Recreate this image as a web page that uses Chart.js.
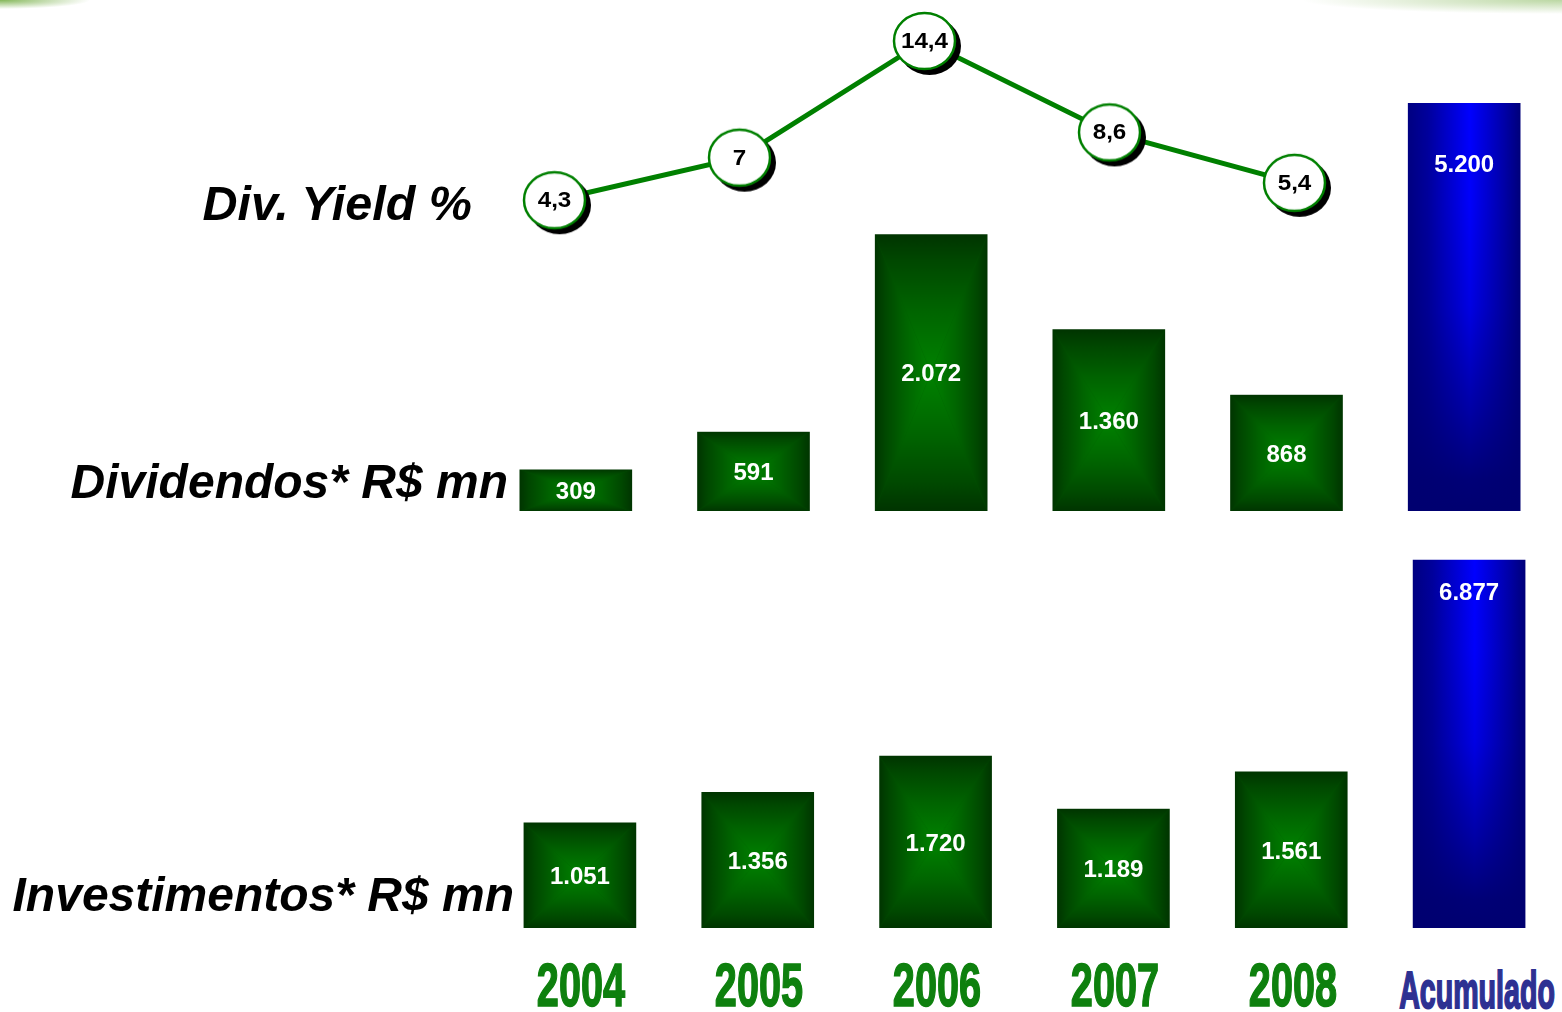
<!DOCTYPE html>
<html><head><meta charset="utf-8">
<script src="https://cdn.jsdelivr.net/npm/chart.js@4.4.0/dist/chart.umd.min.js"></script>
<style>
html,body{margin:0;padding:0;background:#fff;overflow:hidden;}
#stage{position:relative;width:1562px;height:1012px;overflow:hidden;font-family:"Liberation Sans",Arial,sans-serif;}
canvas{position:absolute;}
.row{position:absolute;font-weight:bold;font-style:italic;color:#000;white-space:nowrap;line-height:1;text-align:right;}
.yr{position:absolute;font-weight:bold;white-space:nowrap;line-height:1;text-align:center;width:300px;transform-origin:center;}
#topL{position:absolute;left:0;top:0;width:90px;height:10px;background:radial-gradient(ellipse 90px 9px at 0 0,rgba(110,170,60,0.85),rgba(255,255,255,0) 100%);}
#topR{position:absolute;left:1250px;top:0;width:312px;height:14px;background:radial-gradient(ellipse 260px 14px at 100% 0,rgba(170,205,140,0.8),rgba(255,255,255,0) 100%);}
</style></head><body>
<div id="stage">
  <div id="topL"></div><div id="topR"></div>
  <canvas id="cDiv" width="1066" height="511" style="left:487px;top:0px"></canvas>
  <canvas id="cInv" width="1067" height="408" style="left:491px;top:520px"></canvas>
  <canvas id="cYield" width="925" height="268" style="left:462px;top:0px"></canvas>
</div>
<script>
// ---------- data ----------
const years = ['2004', '2005', '2006', '2007', '2008'];
const totalLabel = 'Acumulado';
const divYield = [4.3, 7, 14.4, 8.6, 5.4];
const dividends = [309, 591, 2072, 1360, 868];
const dividendsTotal = 5200;
const investments = [1051, 1356, 1720, 1189, 1561];
const investmentsTotal = 6877;
const rowTitles = ['Div. Yield %', 'Dividendos* R$ mn', 'Investimentos* R$ mn'];

// ---------- helpers ----------
const FONT = '"Liberation Sans", Arial, sans-serif';
const BAR_W = 112;
const fmtThousands = v => String(v).replace(/\B(?=(\d{3})+(?!\d))/g, '.');
const fmtDecimal = v => String(v).replace('.', ',');
const categories = years.concat([totalLabel]);
const padNull = (arr) => arr.concat([null]);
const totalOnly = (v) => years.map(() => null).concat([v]);

const GREEN_STOPS = [[0, '#003300'], [0.2, '#004800'], [0.55, '#006400'], [1, '#008200']];

function greenCanvas(w, h) {
  const c = document.createElement('canvas');
  c.width = Math.ceil(w); c.height = Math.ceil(h);
  const g = c.getContext('2d');
  const cx = w / 2, cy = h / 2;
  g.fillStyle = '#005500'; g.fillRect(0, 0, c.width, c.height);
  const tri = (p, x0, y0, x1, y1) => {
    const lg = g.createLinearGradient(x0, y0, x1, y1);
    GREEN_STOPS.forEach(([o, col]) => lg.addColorStop(o, col));
    g.fillStyle = lg; g.beginPath();
    g.moveTo(p[0], p[1]); g.lineTo(p[2], p[3]); g.lineTo(cx, cy); g.closePath(); g.fill();
  };
  tri([0, 0, w, 0], cx, 0, cx, cy);
  tri([0, h, w, h], cx, h, cx, cy);
  tri([0, 0, 0, h], 0, cy, cx, cy);
  tri([w, 0, w, h], w, cy, cx, cy);
  return c;
}
function blueCanvas(w, h) {
  const c = document.createElement('canvas');
  c.width = Math.ceil(w); c.height = Math.ceil(h);
  const g = c.getContext('2d');
  const hg = g.createLinearGradient(0, 0, w, 0);
  hg.addColorStop(0, '#000080'); hg.addColorStop(0.18, '#00009c');
  hg.addColorStop(0.55, '#0000ff'); hg.addColorStop(0.85, '#0000a8'); hg.addColorStop(1, '#000078');
  g.fillStyle = hg; g.fillRect(0, 0, c.width, c.height);
  const vg = g.createLinearGradient(0, 0, 0, h);
  vg.addColorStop(0, 'rgba(0,0,112,0)'); vg.addColorStop(0.25, 'rgba(0,0,112,0.03)');
  vg.addColorStop(0.5, 'rgba(0,0,112,0.2)'); vg.addColorStop(0.75, 'rgba(0,0,112,0.62)');
  vg.addColorStop(0.92, 'rgba(0,0,112,0.95)'); vg.addColorStop(1, 'rgba(0,0,112,1)');
  g.fillStyle = vg; g.fillRect(0, 0, c.width, c.height);
  return c;
}
function barFill(kind) {
  const fallback = kind === 'blue' ? '#0000a0' : '#005800';
  return function (c) {
    if (c.type !== 'data' || c.raw == null) return fallback;
    const ch = c.chart, xs = ch.scales.x, ys = ch.scales[c.dataset.yAxisID];
    if (!xs || !ys) return fallback;
    const cx = xs.getPixelForValue(c.dataIndex);
    const top = ys.getPixelForValue(c.raw), base = ys.getPixelForValue(0);
    if (![cx, top, base].every(Number.isFinite)) return fallback;
    const w = BAR_W + 2, h = Math.abs(base - top) + 2;
    if (h < 2) return fallback;
    const off = kind === 'blue' ? blueCanvas(w, h) : greenCanvas(w, h);
    const p = ch.ctx.createPattern(off, 'no-repeat');
    p.setTransform(new DOMMatrix([1, 0, 0, 1, cx - w / 2, Math.min(top, base) - 1]));
    return p;
  };
}

// value labels inside bars
const barLabels = {
  id: 'barLabels',
  afterDatasetsDraw(chart, args, opts) {
    const ctx = chart.ctx;
    ctx.save();
    ctx.fillStyle = '#ffffff';
    ctx.font = 'bold 24px ' + FONT;
    ctx.textAlign = 'center';
    ctx.textBaseline = 'middle';
    chart.data.datasets.forEach((ds, di) => {
      const meta = chart.getDatasetMeta(di);
      meta.data.forEach((el, i) => {
        const v = ds.data[i];
        if (v == null) return;
        const y = ds.isTotal ? el.y + opts.totalOffset : (el.y + el.base) / 2 + 2;
        ctx.fillText(fmtThousands(v), el.x, y);
      });
    });
    ctx.restore();
  }
};

function barChart(id, values, total, yMax, y2Max, totalOffset) {
  return new Chart(document.getElementById(id), {
    type: 'bar',
    data: {
      labels: categories,
      datasets: [
        { data: padNull(values), yAxisID: 'y', backgroundColor: barFill('green'),
          barThickness: BAR_W, grouped: false, borderWidth: 0 },
        { data: totalOnly(total), yAxisID: 'y2', backgroundColor: barFill('blue'),
          barThickness: BAR_W, grouped: false, borderWidth: 0, isTotal: true }
      ]
    },
    options: {
      responsive: false, animation: false, events: [],
      layout: { padding: 0, autoPadding: false },
      plugins: { legend: { display: false }, tooltip: { enabled: false }, barLabels: { totalOffset } },
      scales: {
        x: { type: 'category', offset: true, display: false },
        y: { display: false, min: 0, max: yMax },
        y2: { display: false, min: 0, max: y2Max }
      }
    },
    plugins: [barLabels]
  });
}

const divChart = barChart('cDiv', dividends, dividendsTotal, 3829, 6518, 62);
const invChart = barChart('cInv', investments, investmentsTotal, 4080, 7625, 33);

// ---------- dividend yield line ----------
function bubbleImage() {
  const rx = 31.5, ry = 29, sh = 5, pad = 2;
  const c = document.createElement('canvas');
  c.width = 2 * (rx + sh + pad); c.height = 2 * (ry + sh + pad);
  const g = c.getContext('2d');
  const cx = c.width / 2, cy = c.height / 2;
  g.fillStyle = '#000';
  g.beginPath(); g.ellipse(cx + sh, cy + sh, rx, ry, 0, 0, Math.PI * 2); g.fill();
  g.fillStyle = '#fff'; g.strokeStyle = '#008000'; g.lineWidth = 2.5;
  g.beginPath(); g.ellipse(cx, cy, rx - 1, ry - 1, 0, 0, Math.PI * 2); g.fill(); g.stroke();
  return c;
}
const yieldLabels = {
  id: 'yieldLabels',
  afterDatasetsDraw(chart) {
    const ctx = chart.ctx;
    const meta = chart.getDatasetMeta(0);
    ctx.save();
    ctx.fillStyle = '#000';
    ctx.font = 'bold 22px ' + FONT;
    ctx.textAlign = 'center';
    ctx.textBaseline = 'middle';
    meta.data.forEach((el, i) => {
      ctx.save();
      ctx.translate(el.x, el.y + 1);
      ctx.scale(1.1, 1);
      ctx.fillText(fmtDecimal(chart.data.datasets[0].data[i]), 0, 0);
      ctx.restore();
    });
    ctx.restore();
  }
};
const yieldChart = new Chart(document.getElementById('cYield'), {
  type: 'line',
  data: {
    labels: years,
    datasets: [{
      data: divYield, borderColor: '#008000', borderWidth: 5, tension: 0, fill: false,
      pointStyle: bubbleImage(), pointRadius: 31, clip: false
    }]
  },
  options: {
    responsive: false, animation: false, events: [],
    layout: { padding: 0, autoPadding: false },
    plugins: { legend: { display: false }, tooltip: { enabled: false } },
    scales: {
      x: { type: 'category', offset: true, display: false },
      y: { display: false, min: 0, max: 17 }
    }
  },
  plugins: [yieldLabels]
});

// ---------- HTML text: row titles and category labels ----------
const stage = document.getElementById('stage');
const rowSpec = [
  { right: 472, top: 179, size: 48.5 },
  { right: 508, top: 458, size: 48 },
  { right: 514, top: 871, size: 48 }
];
rowTitles.forEach((t, i) => {
  const d = document.createElement('div');
  d.className = 'row';
  d.textContent = t;
  d.style.right = (1562 - rowSpec[i].right) + 'px';
  d.style.top = rowSpec[i].top + 'px';
  d.style.fontSize = rowSpec[i].size + 'px';
  stage.appendChild(d);
});
const invLeft = 491;
categories.forEach((t, i) => {
  const isTotal = i === categories.length - 1;
  const cx = invLeft + invChart.scales.x.getPixelForValue(i) + (isTotal ? 8 : 1.5);
  const d = document.createElement('div');
  d.className = 'yr';
  d.textContent = t;
  const col = isTotal ? '#2e3192' : '#0e800e';
  d.style.left = (cx - 150) + 'px';
  d.style.fontSize = (isTotal ? 52 : 62) + 'px';
  d.style.top = (isTotal ? 964 : 954) + 'px';
  d.style.color = col;
  d.style.webkitTextStroke = (isTotal ? 2 : 1.6) + 'px ' + col;
  d.style.transform = 'scaleX(' + (isTotal ? 0.55 : 0.64) + ')';
  stage.appendChild(d);
});
</script>
</body></html>
